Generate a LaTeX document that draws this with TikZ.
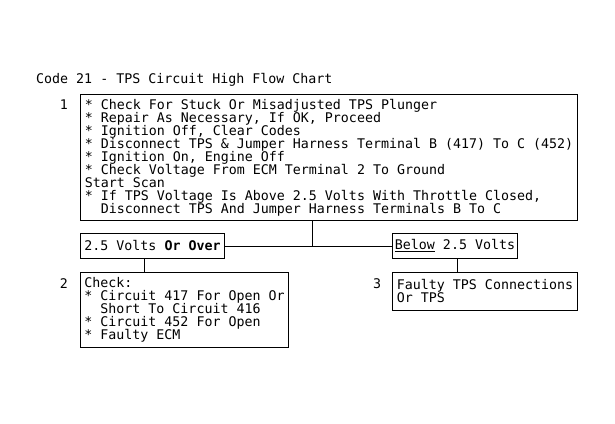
\documentclass[tikz,border=0pt]{standalone}
\usepackage{fontspec}
\newfontfamily\chartmono{DejaVu Sans Mono}
\newcommand\chartfont{\chartmono\fontsize{13.3}{13}\selectfont\lineskiplimit=-20pt\lineskip=0pt\relax}
\tikzset{
  txt/.style={font=\chartfont, inner sep=0pt},
  box/.style={draw, line width=1pt, font=\chartfont, align=left, inner sep=0pt, anchor=north west},
  conn/.style={line width=1pt}
}
\begin{document}
\begin{tikzpicture}[x=1pt,y=-1pt]
\useasboundingbox[fill=white] (0,0) rectangle (615,423);
\node[txt, anchor=west] (title) at (36,80) {Code 21 - TPS Circuit High Flow Chart};
\node[txt] (n1) at (64,105) {1};
\node[box, minimum width=497pt, minimum height=126pt] (b1) at (80,94) {%
* Check For Stuck Or Misadjusted TPS Plunger\\
* Repair As Necessary, If OK, Proceed\\
* Ignition Off, Clear Codes\\
* Disconnect TPS \& Jumper Harness Terminal B (417) To C (452)\\
* Ignition On, Engine Off\\
* Check Voltage From ECM Terminal 2 To Ground\\
Start Scan\\
* If TPS Voltage Is Above 2.5 Volts With Throttle Closed,\\
\ \ Disconnect TPS And Jumper Harness Terminals B To C};
\node[box, minimum width=144pt, minimum height=25pt] (a) at (80,233) {2.5 Volts \textbf{Or Over}};
\node[box, minimum width=125pt, minimum height=25pt] (b) at (392,233) {\underline{Below} 2.5 Volts};
\node[txt] (n2) at (64,284) {2};
\node[box, minimum width=208pt, minimum height=75pt] (b2) at (80,272) {%
Check:\\
* Circuit 417 For Open Or\\
\ \ Short To Circuit 416\\
* Circuit 452 For Open\\
* Faulty ECM};
\node[txt] (n3) at (377,284) {3};
\node[box, minimum width=185pt, minimum height=38pt] (b3) at (392,272) {%
Faulty TPS Connections\\
Or TPS};
\coordinate (j) at (312,245.5);
\coordinate (ja) at (144,0);
\coordinate (jb) at (457,0);
\draw[conn] (b1.south -| j) -- (j);
\draw[conn] (a.east) -- (b.west);
\draw[conn] (a.south -| ja) -- (b2.north -| ja);
\draw[conn] (b.south -| jb) -- (b3.north -| jb);
\end{tikzpicture}
\end{document}
